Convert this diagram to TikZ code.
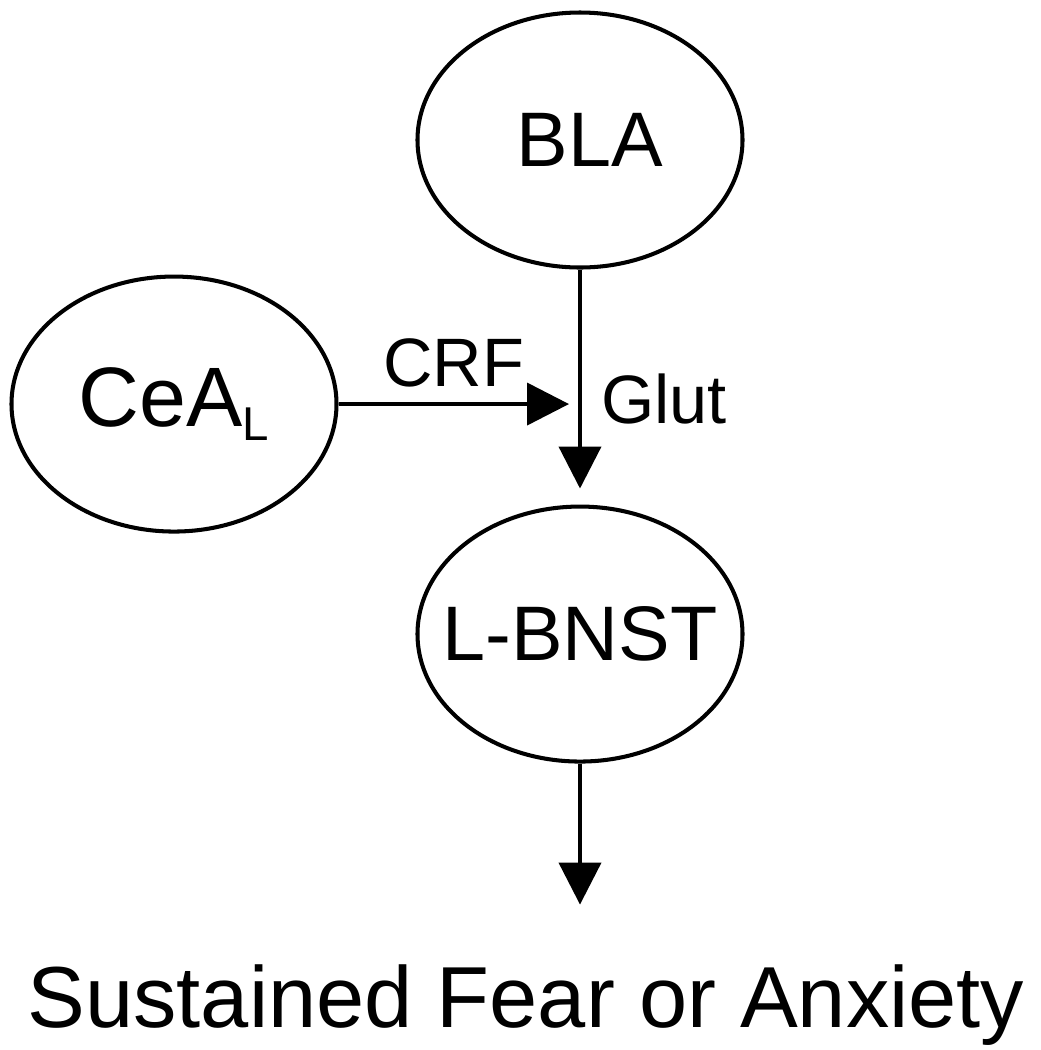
\documentclass[tikz,border=0pt]{standalone}
\usepackage{fontspec}
\setmainfont{Liberation Sans}
\usetikzlibrary{shapes,arrows.meta,positioning}

\begin{document}
\begin{tikzpicture}[
    node distance=1.5cm,
    region/.style={ellipse, draw, line width=2.3pt, minimum width=6.5cm, minimum height=5.1cm, inner sep=0pt, font=\fontsize{44}{44}\selectfont},
    lbl/.style={inner sep=0pt, font=\fontsize{39}{39}\selectfont},
    arrow/.style={-{Triangle[length=0.84cm, width=0.84cm]}, line width=2.3pt}
]
\useasboundingbox (0,0) rectangle (20.82,-21);
\node (BLA) [region] at (11.6,-2.8) {\makebox[0pt]{\hspace{0.4cm}BLA}};
\node (bnst) [region, below=4.7cm of BLA] {\makebox[0pt]{L-BNST}};
\node (CeA) [region, below=0.1cm of BLA, xshift=-8.12cm, font=\fontsize{48}{48}\selectfont] {\makebox[0pt]{CeA\raisebox{-0.28cm}{\fontsize{27}{27}\selectfont L}}};
\coordinate (jn) at ([xshift=-0.22cm]BLA.south |- CeA.east);
\coordinate [below=2.82cm of bnst.south] (outend);
\node (fear) [lbl, below=1.2cm of outend, xshift=-1.08cm, font=\fontsize{49.3}{50}\selectfont] {Sustained Fear or Anxiety};
\draw [arrow] (CeA) -- node[lbl, above=0.3cm] {CRF} (jn);
\draw [arrow, shorten >=0.32cm] (BLA) -- node[lbl, pos=0.55, right=0.38cm] {Glut} (bnst);
\draw [arrow] (bnst) -- (outend);
\end{tikzpicture}
\end{document}
